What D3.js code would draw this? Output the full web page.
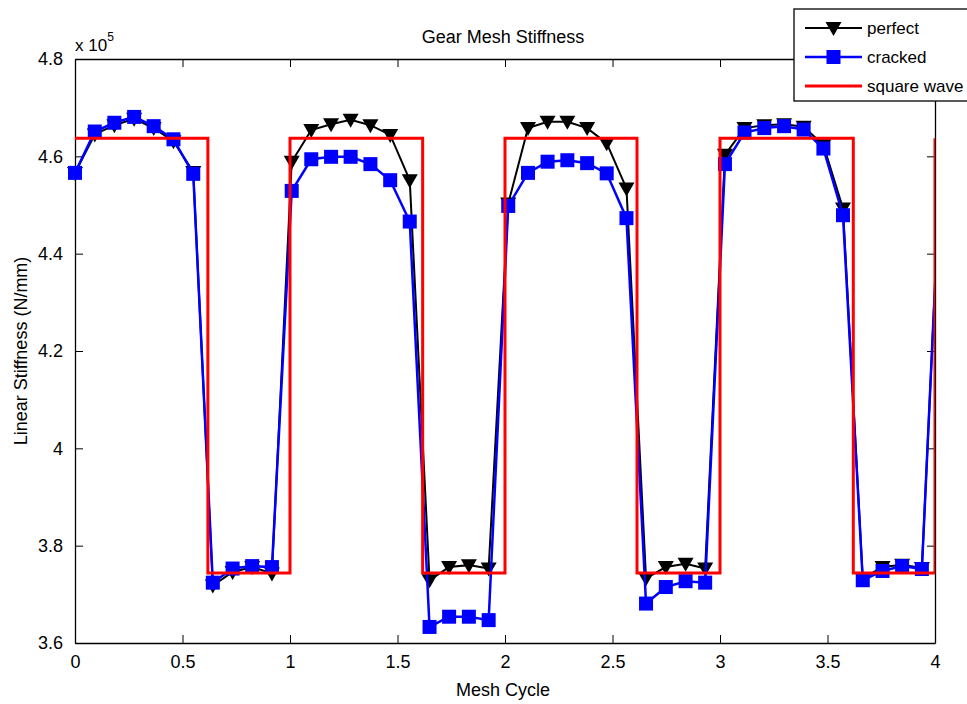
<!DOCTYPE html>
<html>
<head>
<meta charset="utf-8">
<script src="https://cdn.jsdelivr.net/npm/d3@7"></script>
<style>
  body { margin: 0; background: #fff; }
  svg text { font-family: "Liberation Sans", Arial, sans-serif; fill: #000; }
</style>
</head>
<body>
<div id="chart"></div>
<script>
// mesh cycle position of each sample
var meshCycle = [0, 0.092, 0.183, 0.275, 0.366, 0.458, 0.550, 0.641, 0.733, 0.824, 0.916,
  1.008, 1.099, 1.191, 1.282, 1.374, 1.466, 1.557, 1.649, 1.740, 1.832, 1.924,
  2.015, 2.107, 2.198, 2.290, 2.382, 2.473, 2.565, 2.656, 2.748, 2.840, 2.931,
  3.023, 3.114, 3.206, 3.298, 3.389, 3.481, 3.572, 3.664, 3.756, 3.847, 3.939, 4.030];

// stiffness, x 10^5 N/mm
var perfect = [4.566, 4.645, 4.664, 4.677, 4.658, 4.631, 4.568, 3.718, 3.746, 3.756, 3.743,
  4.589, 4.654, 4.666, 4.675, 4.664, 4.644, 4.551, 3.729, 3.756, 3.760, 3.753,
  4.503, 4.658, 4.671, 4.671, 4.658, 4.627, 4.534, 3.733, 3.756, 3.763, 3.753,
  4.603, 4.658, 4.664, 4.666, 4.661, 4.623, 4.493, 3.733, 3.756, 3.761, 3.754, 4.620];

var cracked = [4.566, 4.651, 4.669, 4.681, 4.662, 4.635, 4.564, 3.724, 3.753, 3.758, 3.756,
  4.529, 4.594, 4.599, 4.599, 4.584, 4.551, 4.466, 3.633, 3.654, 3.654, 3.647,
  4.498, 4.566, 4.589, 4.592, 4.586, 4.565, 4.473, 3.681, 3.715, 3.727, 3.724,
  4.584, 4.649, 4.658, 4.662, 4.655, 4.616, 4.479, 3.729, 3.748, 3.758, 3.752, 4.620];

// square wave corners
var waveX = [0, 0.618, 0.618, 1, 1, 1.617, 1.617, 2, 2, 2.614, 2.614, 3, 3, 3.62, 3.62, 4, 4];
var waveY = [4.637, 4.637, 3.744, 3.744, 4.637, 4.637, 3.744, 3.744, 4.637, 4.637, 3.744, 3.744,
  4.637, 4.637, 3.744, 3.744, 4.637];

var xTicks = [0, 0.5, 1, 1.5, 2, 2.5, 3, 3.5, 4];
var xTickLabels = ["0", "0.5", "1", "1.5", "2", "2.5", "3", "3.5", "4"];
var yTicks = [3.6, 3.8, 4.0, 4.2, 4.4, 4.6, 4.8];
var yTickLabels = ["3.6", "3.8", "4", "4.2", "4.4", "4.6", "4.8"];

var W = 967, H = 704;
var m = {left: 75, right: 32, top: 59, bottom: 61};
var iw = W - m.left - m.right, ih = H - m.top - m.bottom;

var svg = d3.select("#chart").append("svg").attr("width", W).attr("height", H);

var x = d3.scaleLinear().domain([0, 4]).range([0, iw]);
var y = d3.scaleLinear().domain([3.6, 4.8]).range([ih, 0]);

var g = svg.append("g").attr("transform", "translate(" + m.left + "," + m.top + ")");

g.append("clipPath").attr("id", "plotclip")
  .append("rect").attr("x", -10).attr("y", -10).attr("width", iw + 10).attr("height", ih + 20);

// axes with inward ticks on every side
var tl = 8;
g.append("g").attr("transform", "translate(0," + ih + ")")
  .call(d3.axisBottom(x).tickValues(xTicks).tickFormat(function(d, i) { return xTickLabels[i]; })
    .tickSizeInner(-tl).tickSizeOuter(0).tickPadding(12))
  .call(function(a) { a.selectAll("text").style("font-size", "18px"); });
g.append("g")
  .call(d3.axisTop(x).tickValues(xTicks).tickFormat("").tickSizeInner(-tl).tickSizeOuter(0));
g.append("g")
  .call(d3.axisLeft(y).tickValues(yTicks).tickFormat(function(d, i) { return yTickLabels[i]; })
    .tickSizeInner(-tl).tickSizeOuter(0).tickPadding(12))
  .call(function(a) { a.selectAll("text").style("font-size", "18px"); });
g.append("g").attr("transform", "translate(" + iw + ",0)")
  .call(d3.axisRight(y).tickValues(yTicks).tickFormat("").tickSizeInner(-tl).tickSizeOuter(0));

g.selectAll(".domain").attr("stroke", "#000").attr("stroke-width", 1.3);
g.selectAll(".tick line").attr("stroke", "#000");

var plot = g.append("g").attr("clip-path", "url(#plotclip)");

var line = d3.line().x(function(d) { return x(d[0]); }).y(function(d) { return y(d[1]); });

var perfectPts = meshCycle.map(function(v, i) { return [v, perfect[i]]; });
var crackedPts = meshCycle.map(function(v, i) { return [v, cracked[i]]; });
var wavePts = waveX.map(function(v, i) { return [v, waveY[i]]; });

var tri = "M-8,-6L8,-6L0,8Z";
var sq = 7;

plot.append("path").datum(perfectPts).attr("d", line)
  .attr("fill", "none").attr("stroke", "#000").attr("stroke-width", 2);
plot.selectAll(".tri").data(perfectPts.filter(function(d) { return d[0] <= 4; })).enter()
  .append("path").attr("class", "tri").attr("d", tri)
  .attr("transform", function(d) { return "translate(" + x(d[0]) + "," + y(d[1]) + ")"; })
  .attr("fill", "#000");

plot.append("path").datum(crackedPts).attr("d", line)
  .attr("fill", "none").attr("stroke", "#0000ff").attr("stroke-width", 2.5);
plot.selectAll(".sq").data(crackedPts.filter(function(d) { return d[0] <= 4; })).enter()
  .append("rect").attr("class", "sq")
  .attr("x", function(d) { return x(d[0]) - sq; }).attr("y", function(d) { return y(d[1]) - sq; })
  .attr("width", sq * 2).attr("height", sq * 2).attr("fill", "#0000ff");

plot.append("path").datum(wavePts).attr("d", line)
  .attr("fill", "none").attr("stroke", "#ff0000").attr("stroke-width", 3);

// title and labels
svg.append("text").attr("x", m.left + iw / 2 - 2).attr("y", 43).attr("text-anchor", "middle")
  .style("font-size", "18px").text("Gear Mesh Stiffness");
svg.append("text").attr("x", m.left + iw / 2 - 2).attr("y", 696).attr("text-anchor", "middle")
  .style("font-size", "18px").text("Mesh Cycle");
svg.append("text").attr("transform", "translate(27," + (m.top + ih / 2) + ") rotate(-90)")
  .attr("text-anchor", "middle").style("font-size", "18px").text("Linear Stiffness (N/mm)");
var ex = svg.append("text").attr("x", m.left).attr("y", 51).style("font-size", "17px");
ex.append("tspan").text("x 10");
ex.append("tspan").attr("dy", -10).style("font-size", "12px").text("5");

// legend
var lg = svg.append("g").attr("transform", "translate(794,9)");
lg.append("rect").attr("width", 200).attr("height", 92).attr("fill", "#fff")
  .attr("stroke", "#000").attr("stroke-width", 1.3);
var legendNames = ["perfect", "cracked", "square wave"];
var legendColors = ["#000", "#0000ff", "#ff0000"];
var legendWidths = [2, 2.5, 3];
legendNames.forEach(function(name, i) {
  var ly = 19 + i * 29;
  lg.append("line").attr("x1", 11).attr("x2", 68).attr("y1", ly).attr("y2", ly)
    .attr("stroke", legendColors[i]).attr("stroke-width", legendWidths[i]);
  if (i === 0) lg.append("path").attr("d", tri).attr("transform", "translate(39.5," + ly + ")").attr("fill", "#000");
  if (i === 1) lg.append("rect").attr("x", 39.5 - sq).attr("y", ly - sq).attr("width", sq * 2).attr("height", sq * 2).attr("fill", "#0000ff");
  lg.append("text").attr("x", 73).attr("y", ly + 6).style("font-size", "17px").text(name);
});
</script>
</body>
</html>
